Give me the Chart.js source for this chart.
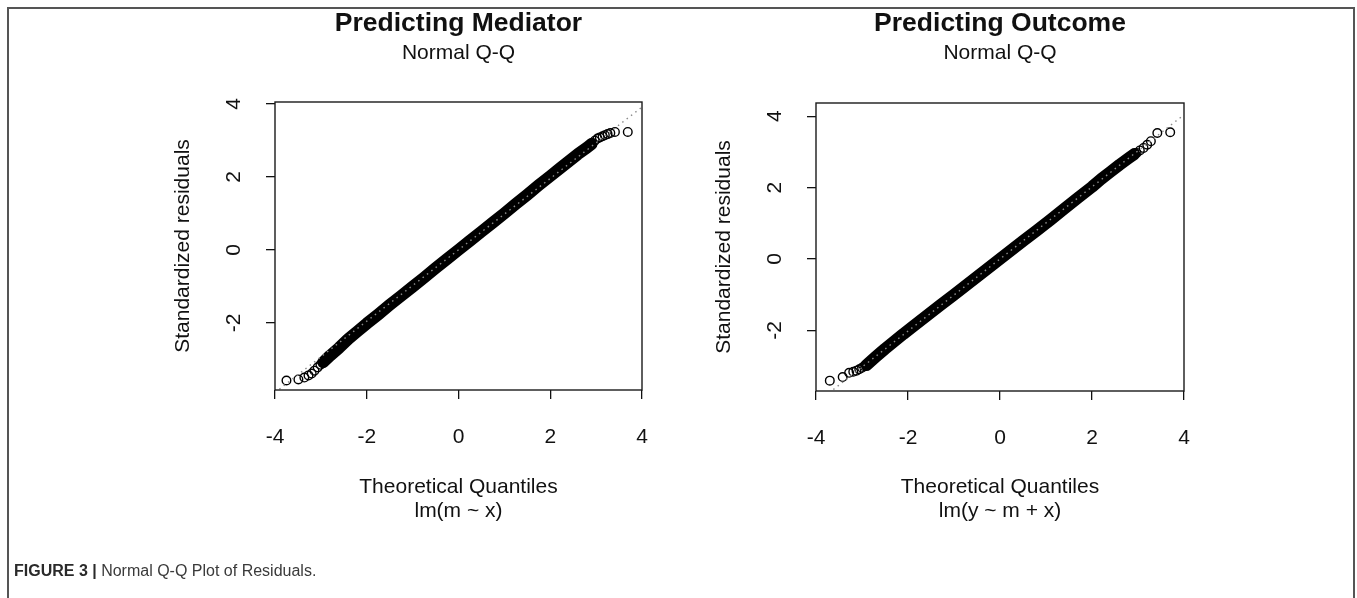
<!DOCTYPE html>
<html>
<head>
<meta charset="utf-8">
<script src="https://cdn.jsdelivr.net/npm/chart.js@4.4.1/dist/chart.umd.min.js"></script>
<style>
  html, body { margin: 0; padding: 0; background: #fff; }
  body { width: 1357px; height: 598px; position: relative; overflow: hidden; font-family: "Liberation Sans", Arial, sans-serif; }
  #frame { position: absolute; left: 7px; top: 7px; width: 1344px; height: 600px; border: 2px solid #555; border-bottom: none; }
  canvas { position: absolute; left: 0; top: 0; }
  #caption { position: absolute; left: 14px; top: 562px; font-size: 16px; color: #3a3a3a; white-space: nowrap; }
  #caption b { color: #2a2a2a; }
</style>
</head>
<body>
<div id="frame"></div>
<canvas id="mediator_chart" width="1357" height="598"></canvas>
<canvas id="outcome_chart" width="1357" height="598"></canvas>
<div id="caption"><b>FIGURE 3 |</b> Normal Q-Q Plot of Residuals.</div>

<script>
// x tick values shared by both panels
const xTicks = [-4, -2, 0, 2, 4];

// Predicting Mediator : lm(m ~ x)
const mediatorYRange = [-3.84, 4.05];
// dense middle of the Q-Q cloud (reads as one thick band)
const mediatorBandX = [-2.95, -2.8, -2.6, -2.4, -2.2, -2.0, -1.75, -1.5, -1.25, -1.0, -0.75, -0.5, -0.25, 0, 0.25, 0.5, 0.75, 1.0, 1.25, 1.5, 1.75, 2.0, 2.2, 2.4, 2.6, 2.8, 2.9];
const mediatorBandY = [-3.08, -2.9, -2.68, -2.44, -2.23, -2.02, -1.77, -1.51, -1.26, -1.01, -0.76, -0.5, -0.25, 0.0, 0.25, 0.5, 0.75, 1.0, 1.26, 1.51, 1.77, 2.02, 2.22, 2.42, 2.62, 2.8, 2.9];
// single circles in the tails
const mediatorTailX = [-3.75, -3.49, -3.36, -3.27, -3.20, -3.14, -3.07, -3.01, 2.92, 2.97, 3.03, 3.08, 3.14, 3.19, 3.25, 3.31, 3.41, 3.69];
const mediatorTailY = [-3.58, -3.55, -3.50, -3.44, -3.39, -3.31, -3.22, -3.15, 2.93, 2.99, 3.05, 3.08, 3.11, 3.14, 3.17, 3.20, 3.23, 3.23];
// qqline end points
const mediatorLineX = [-4, 4];
const mediatorLineY = [-3.91, 3.91];

// Predicting Outcome : lm(y ~ m + x)
const outcomeYRange = [-3.70, 4.37];
const outcomeBandX = [-2.9, -2.7, -2.5, -2.3, -2.1, -1.9, -1.6, -1.3, -1.0, -0.7, -0.4, -0.1, 0.2, 0.5, 0.8, 1.1, 1.4, 1.7, 2.0, 2.2, 2.4, 2.6, 2.8, 2.92];
const outcomeBandY = [-2.97, -2.74, -2.52, -2.31, -2.1, -1.9, -1.6, -1.3, -1.0, -0.7, -0.4, -0.1, 0.2, 0.5, 0.8, 1.1, 1.41, 1.72, 2.02, 2.24, 2.44, 2.64, 2.83, 2.94];
const outcomeTailX = [-3.70, -3.42, -3.28, -3.19, -3.12, -3.06, -3.00, -2.95, 2.97, 3.04, 3.12, 3.20, 3.28, 3.42, 3.70];
const outcomeTailY = [-3.41, -3.31, -3.19, -3.16, -3.13, -3.09, -3.05, -3.00, 2.97, 3.04, 3.11, 3.20, 3.30, 3.53, 3.55];
const outcomeLineX = [-4, 4];
const outcomeLineY = [-4.04, 4.04];

const FONT = '"Liberation Sans", Arial, sans-serif';

function toPoints(xs, ys) {
  return xs.map((x, i) => ({ x: x, y: ys[i] }));
}

// draws the R style box, titles and rotated tick labels
const rLabels = {
  id: 'rLabels',
  afterDraw(chart, args, opts) {
    const { ctx, chartArea: a } = chart;
    const xScale = chart.scales.x;
    const yScale = chart.scales.y;
    const cx = (a.left + a.right) / 2;
    const cy = (a.top + a.bottom) / 2;

    ctx.save();
    ctx.strokeStyle = '#1a1a1a';
    ctx.lineWidth = 1.4;
    ctx.strokeRect(a.left, a.top, a.right - a.left, a.bottom - a.top);

    ctx.fillStyle = '#111';
    ctx.textAlign = 'center';
    ctx.textBaseline = 'middle';
    ctx.font = 'bold 26.5px ' + FONT;
    ctx.fillText(opts.title, cx, 24);
    ctx.font = '21px ' + FONT;
    ctx.fillText(opts.sub, cx, 53);

    xScale.ticks.forEach(t => {
      ctx.fillText(String(t.value), xScale.getPixelForValue(t.value), a.bottom + 47);
    });
    ctx.fillText(opts.xlab, cx, 487);
    ctx.fillText(opts.xsub, cx, 511);

    yScale.ticks.forEach(t => {
      ctx.save();
      ctx.translate(a.left - 41, yScale.getPixelForValue(t.value));
      ctx.rotate(-Math.PI / 2);
      ctx.fillText(String(t.value), 0, 0);
      ctx.restore();
    });

    ctx.translate(a.left - 92, cy);
    ctx.rotate(-Math.PI / 2);
    ctx.fillText(opts.ylab, 0, 0);
    ctx.restore();
  }
};

function buildChart(canvasId, cfg) {
  const ctx = document.getElementById(canvasId).getContext('2d');
  return new Chart(ctx, {
    type: 'scatter',
    data: {
      datasets: [
        {
          // qqline, dotted grey, on top
          data: toPoints(cfg.lineX, cfg.lineY),
          showLine: true,
          borderColor: '#8a8a8a',
          borderWidth: 1.4,
          borderDash: [1.5, 4],
          pointRadius: 0,
        },
        {
          data: toPoints(cfg.tailX, cfg.tailY),
          showLine: false,
          pointRadius: 4.3,
          pointBorderColor: '#000',
          pointBackgroundColor: 'rgba(0,0,0,0)',
          pointBorderWidth: 1.4,
        },
        {
          data: toPoints(cfg.bandX, cfg.bandY),
          showLine: true,
          borderColor: '#000',
          borderWidth: 12,
          borderCapStyle: 'round',
          borderJoinStyle: 'round',
          pointRadius: 0,
        },
      ],
    },
    options: {
      responsive: false,
      animation: false,
      layout: {
        padding: { left: 0, top: cfg.box.top, right: 1357 - cfg.box.right, bottom: 0 },
      },
      plugins: {
        legend: { display: false },
        tooltip: { enabled: false },
        rLabels: {
          title: cfg.title,
          sub: 'Normal Q-Q',
          xlab: 'Theoretical Quantiles',
          xsub: cfg.model,
          ylab: 'Standardized residuals',
        },
      },
      scales: {
        x: {
          type: 'linear',
          min: xTicks[0],
          max: xTicks[xTicks.length - 1],
          ticks: { display: false, stepSize: 2, includeBounds: false },
          grid: { drawOnChartArea: false, drawTicks: true, tickLength: 9, color: '#111', lineWidth: 1.3 },
          border: { display: false },
          afterFit(scale) { scale.height = 598 - cfg.box.bottom; },
        },
        y: {
          type: 'linear',
          min: cfg.yRange[0],
          max: cfg.yRange[1],
          ticks: { display: false, stepSize: 2, includeBounds: false },
          grid: { drawOnChartArea: false, drawTicks: true, tickLength: 9, color: '#111', lineWidth: 1.3 },
          border: { display: false },
          afterFit(scale) { scale.width = cfg.box.left; },
        },
      },
    },
    plugins: [rLabels],
  });
}

buildChart('mediator_chart', {
  title: 'Predicting Mediator',
  model: 'lm(m ~ x)',
  box: { left: 275, right: 642, top: 102, bottom: 390 },
  yRange: mediatorYRange,
  bandX: mediatorBandX, bandY: mediatorBandY,
  tailX: mediatorTailX, tailY: mediatorTailY,
  lineX: mediatorLineX, lineY: mediatorLineY,
});

buildChart('outcome_chart', {
  title: 'Predicting Outcome',
  model: 'lm(y ~ m + x)',
  box: { left: 816, right: 1184, top: 103, bottom: 391 },
  yRange: outcomeYRange,
  bandX: outcomeBandX, bandY: outcomeBandY,
  tailX: outcomeTailX, tailY: outcomeTailY,
  lineX: outcomeLineX, lineY: outcomeLineY,
});
</script>
</body>
</html>
